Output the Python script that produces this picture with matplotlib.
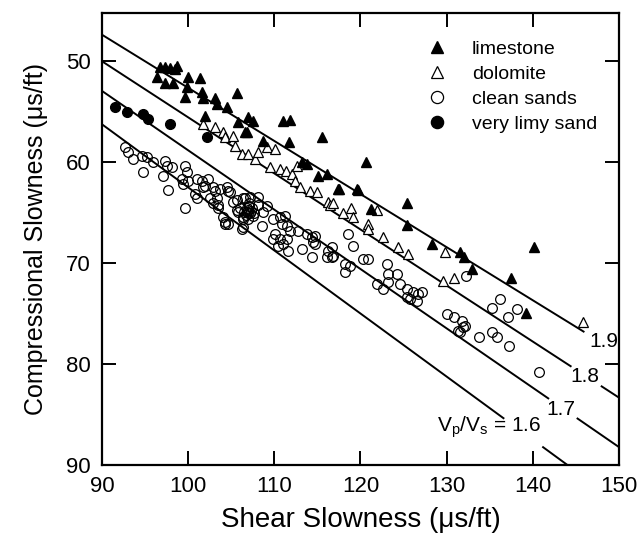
import numpy as np
import matplotlib.pyplot as plt

plt.rcParams['font.family'] = ['Liberation Sans', 'DejaVu Sans']
plt.rcParams['mathtext.fontset'] = 'custom'
plt.rcParams['mathtext.rm'] = 'Liberation Sans'
plt.rcParams['mathtext.it'] = 'Liberation Sans'

# --- data (shear slowness, compressional slowness) in us/ft ---
limestone_x = [96.7, 97.3, 97.9, 98.7, 98.5, 96.4, 97.3, 98.2, 100.0, 101.4, 99.9, 99.6,
               101.6, 101.7, 102.0, 103.1, 103.3, 104.5, 105.7, 105.8, 106.8, 106.9, 107.5,
               106.6, 111.0, 111.8, 108.7, 111.7, 115.5, 113.2, 113.8, 115.1, 116.1, 117.4,
               119.6, 120.6, 117.5, 119.7, 121.2, 125.4, 125.4, 128.3, 131.5, 132.0, 132.9,
               140.2, 137.5, 139.2]
limestone_y = [50.6, 50.6, 50.7, 50.5, 50.8, 51.6, 52.1, 52.1, 51.6, 51.7, 52.5, 53.5,
               53.0, 53.6, 55.4, 53.6, 54.2, 54.5, 53.1, 56.0, 57.0, 55.5, 55.9,
               57.0, 55.9, 55.8, 57.9, 58.0, 57.5, 60.0, 60.2, 61.4, 61.2, 62.7,
               62.7, 60.0, 62.7, 62.8, 64.6, 64.0, 66.2, 68.1, 68.9, 69.4, 70.6,
               68.4, 71.5, 74.9]

dolomite_x = [101.7, 103.1, 104.0, 104.3, 105.2, 105.4, 106.2, 106.9, 107.7, 108.1, 109.1,
              110.1, 109.5, 110.7, 111.3, 112.0, 112.6, 112.4, 113.0, 114.1, 115.0, 116.2,
              116.5, 116.8, 118.0, 118.9, 119.1, 120.9, 120.9, 121.9, 122.6, 124.4, 125.5,
              129.8, 129.6, 130.8, 145.8]
dolomite_y = [56.2, 56.5, 57.0, 57.5, 57.4, 58.4, 59.2, 59.2, 59.7, 59.0, 58.5,
              58.7, 60.5, 60.7, 60.9, 61.2, 60.4, 61.9, 62.5, 62.9, 63.0, 63.9,
              64.2, 64.0, 65.0, 64.5, 65.4, 66.1, 66.6, 64.7, 67.4, 68.4, 69.1,
              68.9, 71.8, 71.5, 75.8]

sands_x = [92.7, 93.0, 93.6, 94.6, 95.2, 95.9, 94.8, 97.3, 97.5, 98.1, 97.1, 99.6, 99.9,
           99.3, 99.4, 97.7, 100.0, 101.0, 101.6, 102.3, 101.7, 100.8, 101.0, 99.6, 103.1,
           103.7, 104.5, 104.6, 103.3, 102.9, 103.5, 105.2, 105.7, 106.6, 106.8, 104.0,
           104.3, 104.6, 105.8, 106.4, 106.4, 106.9,
           102.0, 102.9, 104.9, 102.5, 103.5, 104.3, 105.7, 106.4, 107.2, 106.0, 106.8,
           107.2, 107.4, 107.5, 106.4, 106.2, 108.1, 108.1, 108.7, 108.6, 109.1, 109.8,
           110.7, 111.2, 110.9, 111.5, 111.8, 110.1, 109.8, 110.7, 111.5, 111.0, 111.6,
           110.4, 112.7, 113.2, 113.8, 114.4, 114.7, 114.5, 114.7, 114.4, 116.2, 116.7,
           116.1, 116.7, 106.9, 107.1, 106.7, 107.3, 107.0, 106.5, 107.6, 106.9,
           119.1, 116.8, 118.2, 118.2, 118.8, 120.3, 120.9, 123.1, 123.2, 124.2, 121.9,
           122.6, 123.2, 124.6, 125.4, 126.1, 127.1, 125.4, 125.7, 126.6, 126.7, 130.0,
           130.8, 131.8, 131.3, 131.9, 118.5,
           132.2, 136.2, 135.3, 137.1, 138.2, 132.1, 131.5, 133.8, 135.3, 135.8, 137.2,
           140.7]
sands_y = [58.5, 59.0, 59.7, 59.4, 59.5, 60.0, 61.0, 59.9, 60.4, 60.5, 61.4, 60.4, 61.0,
           61.7, 62.2, 62.8, 61.9, 61.7, 61.9, 61.7, 62.5, 63.2, 63.5, 64.5, 62.9,
           62.7, 62.5, 62.9, 63.5, 64.0, 64.5, 63.9, 64.7, 63.5, 64.5, 65.4,
           66.1, 66.1, 64.95, 65.4, 66.4, 65.0,
           62.4, 62.5, 63.0, 63.5, 64.2, 65.9, 63.7, 63.5, 63.4, 64.5, 64.9,
           65.0, 64.5, 65.3, 65.6, 66.6, 64.2, 63.4, 64.9, 66.3, 64.3, 65.6,
           65.4, 65.3, 66.1, 66.3, 66.8, 67.1, 67.6, 67.6, 67.6, 68.1, 68.8,
           68.3, 66.8, 68.6, 67.1, 67.4, 67.3, 67.9, 68.1, 69.4, 68.8, 68.4,
           69.4, 69.4, 64.7, 64.3, 65.2, 64.8, 64.0, 64.9, 65.0, 65.6,
           68.3, 69.3, 70.1, 70.9, 70.3, 69.6, 69.6, 70.1, 71.1, 71.1, 72.1,
           72.6, 71.9, 72.1, 72.6, 72.9, 72.9, 73.4, 73.6, 73.8, 73.1, 75.0,
           75.3, 75.7, 76.7, 76.3, 67.1,
           71.3, 73.6, 74.5, 75.3, 74.6, 76.2, 76.8, 77.3, 76.8, 77.3, 78.2,
           80.8]

limy_x = [91.5, 92.9, 94.8, 95.3, 97.9, 102.2]
limy_y = [54.5, 55.0, 55.2, 55.7, 56.2, 57.5]

# Vp/Vs reference lines, drawn in pieces so the labels sit in the gaps
ratios = [1.9, 1.8, 1.7, 1.6]
pieces = {1.9: [(90, 145.9)],
          1.8: [(90, 144.4), (148.0, 150)],
          1.7: [(90, 141.8), (145.2, 150)],
          1.6: [(90, 136.6), (141.2, 150)]}
ratio_labels = ['1.9', '1.8', '1.7', r'$\mathrm{V_p/V_s}$ = 1.6']
label_pos = [(148.2, 77.8), (146.1, 81.2), (143.3, 84.5), (135.0, 86.3)]

fig = plt.figure(figsize=(6.42, 5.38), dpi=100)
ax = fig.add_axes([0.159, 0.136, 0.805, 0.84])

for r in ratios:
    for x0, x1 in pieces[r]:
        xs = np.array([x0, x1])
        ax.plot(xs, xs / r, color='black', lw=1.4)
for txt, (tx, ty) in zip(ratio_labels, label_pos):
    ax.text(tx, ty, txt, ha='center', va='center', fontsize=15)

ms = 7
mew = 0.9
ax.plot(sands_x, sands_y, 'o', ls='none', ms=ms, mfc='none', mec='black', mew=mew,
        label='clean sands')
ax.plot(dolomite_x, dolomite_y, '^', ls='none', ms=ms, mfc='white', mec='black', mew=mew,
        label='dolomite')
ax.plot(limestone_x, limestone_y, '^', ls='none', ms=ms, color='black', label='limestone')
ax.plot(limy_x, limy_y, 'o', ls='none', ms=ms, color='black', label='very limy sand')

handles, labels = ax.get_legend_handles_labels()
order = [2, 1, 0, 3]
ax.legend([handles[i] for i in order], [labels[i] for i in order],
          loc='upper left', bbox_to_anchor=(0.629, 0.940), frameon=False,
          fontsize=14, markerscale=1.25, handlelength=1.0, handletextpad=1.3,
          labelspacing=0.38, borderaxespad=0, borderpad=0)

ax.set_xlim(90, 150)
ax.set_ylim(90, 45.2)
ax.set_xticks(np.arange(90, 151, 10))
ax.set_yticks(np.arange(50, 91, 10))
ax.tick_params(direction='in', length=10, width=1.4, top=True, right=True,
               labelsize=16, pad=8)
for s in ax.spines.values():
    s.set_linewidth(1.6)

ax.set_xlabel('Shear Slowness (\u03bcs/ft)', fontsize=20, labelpad=7)
ax.set_ylabel('Compressional Slowness (\u03bcs/ft)', fontsize=18, labelpad=13)

fig.savefig('out.png', dpi=100)
